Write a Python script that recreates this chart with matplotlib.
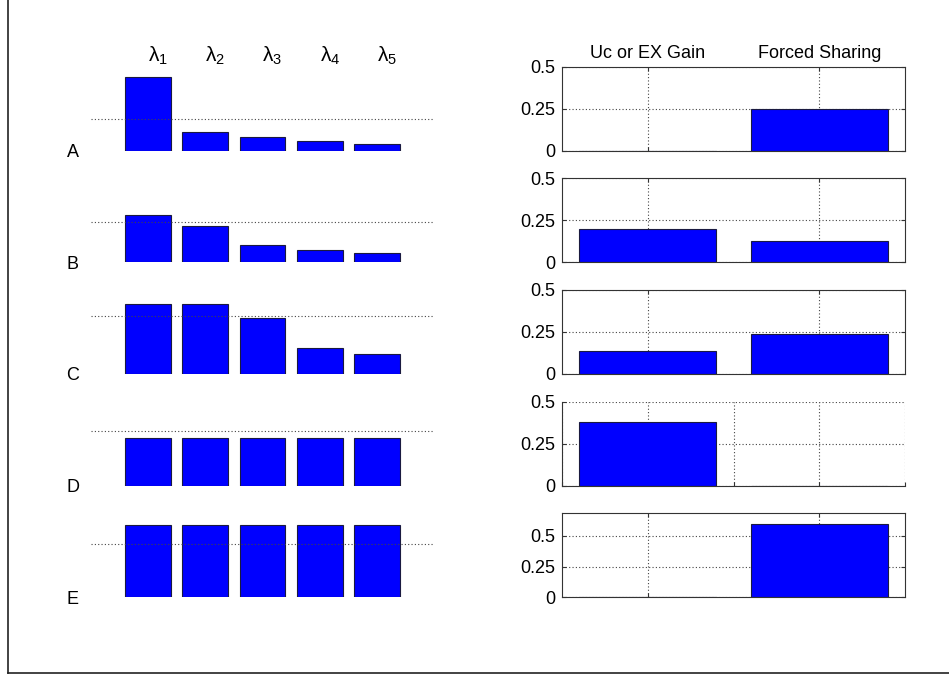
import numpy as np
import matplotlib
matplotlib.use("Agg")
import matplotlib.pyplot as plt
from matplotlib.lines import Line2D

plt.rcParams['font.family'] = ['Liberation Sans', 'DejaVu Sans']
plt.rcParams['mathtext.fontset'] = 'custom'
plt.rcParams['mathtext.rm'] = 'Liberation Sans'
plt.rcParams['mathtext.it'] = 'Liberation Sans'

# eigenvalue spectra per case (arbitrary units, 0..1 scale)
rows = ['A', 'B', 'C', 'D', 'E']
spec_A = [0.88, 0.226, 0.155, 0.119, 0.077]
spec_B = [0.556, 0.432, 0.202, 0.151, 0.111]
spec_C = [0.837, 0.837, 0.662, 0.31, 0.233]
spec_D = [0.571, 0.571, 0.571, 0.571, 0.571]
spec_E = [0.861, 0.861, 0.861, 0.861, 0.861]
ref_level = [0.373, 0.473, 0.694, 0.65, 0.631]
lam_labels = [r'$\lambda_1$', r'$\lambda_2$', r'$\lambda_3$', r'$\lambda_4$', r'$\lambda_5$']

# gain values
gain_names = ['Uc or EX Gain', 'Forced Sharing']
gain_A = [0.0, 0.25]
gain_B = [0.2, 0.125]
gain_C = [0.135, 0.24]
gain_D = [0.38, 0.0]
gain_E = [0.0, 0.595]

spectra = [spec_A, spec_B, spec_C, spec_D, spec_E]
gains = [gain_A, gain_B, gain_C, gain_D, gain_E]

W, H = 949, 674
fig = plt.figure(figsize=(W / 100, H / 100), dpi=100)

blue = (0, 0, 1)
edge = '#1a1a40'
fs = 13

for i, r in enumerate(rows):
    y_bot = 150.5 + 111.7 * i
    bottom = (H - y_bot) / H
    height = 84 / H

    # left: spectrum bars
    axl = fig.add_axes([91 / W, bottom, (434 - 91) / W, height])
    x = np.arange(1, 6)
    axl.bar(x, spectra[i], width=0.8, color=blue, edgecolor=edge, linewidth=0.8)
    axl.axhline(ref_level[i], ls=(0, (1, 2)), color='#444444', lw=0.8)
    axl.set_xlim(0, 6)
    axl.set_ylim(0, 1)
    axl.axis('off')
    fig.text(73 / W, (H - y_bot - 2) / H, r, ha='center', va='center', fontsize=fs)
    if i == 0:
        for k, lab in enumerate(lam_labels):
            axl.text(x[k], 1.0, lab, ha='left', va='bottom', fontsize=15,
                     transform=axl.get_xaxis_transform())

    # right: gain bars
    axr = fig.add_axes([562 / W, bottom, (905 - 562) / W, height])
    xs = np.arange(1, 3)
    axr.bar(xs, gains[i], width=0.8, color=blue, edgecolor=edge, linewidth=0.8, zorder=2)
    axr.set_xlim(0.5, 2.5)
    axr.set_ylim(0, 0.685 if r == 'E' else 0.5)
    axr.set_yticks([0, 0.25, 0.5])
    axr.set_yticklabels(['0', '0.25', '0.5'])
    if r == 'D':
        axr.set_xticks([0.5, 1, 1.5, 2, 2.5])
        axr.spines['top'].set_visible(False)
        axr.spines['right'].set_visible(False)
    else:
        axr.set_xticks([1, 2])
    axr.set_xticklabels([])
    axr.tick_params(direction='in', length=3, labelsize=fs, pad=5,
                    top=(r != 'D'), right=(r != 'D'), color='#333333')
    for sp in axr.spines.values():
        sp.set_color('#333333')
        sp.set_linewidth(0.8)
    axr.grid(True, ls=(0, (1, 2)), color='#444444', lw=0.8, zorder=1)
    axr.set_axisbelow(True)
    if i == 0:
        for k, name in enumerate(gain_names):
            axr.text(xs[k], 1.05, name, ha='center', va='bottom', fontsize=fs,
                     transform=axr.get_xaxis_transform())

# outer frame
fig.add_artist(Line2D([7.5 / W, 7.5 / W], [0.8 / H, 1], transform=fig.transFigure,
                      color='#222222', lw=1.2))
fig.add_artist(Line2D([7.5 / W, 1], [0.8 / H, 0.8 / H], transform=fig.transFigure,
                      color='#222222', lw=1.2))

fig.savefig('out.png', dpi=100)
